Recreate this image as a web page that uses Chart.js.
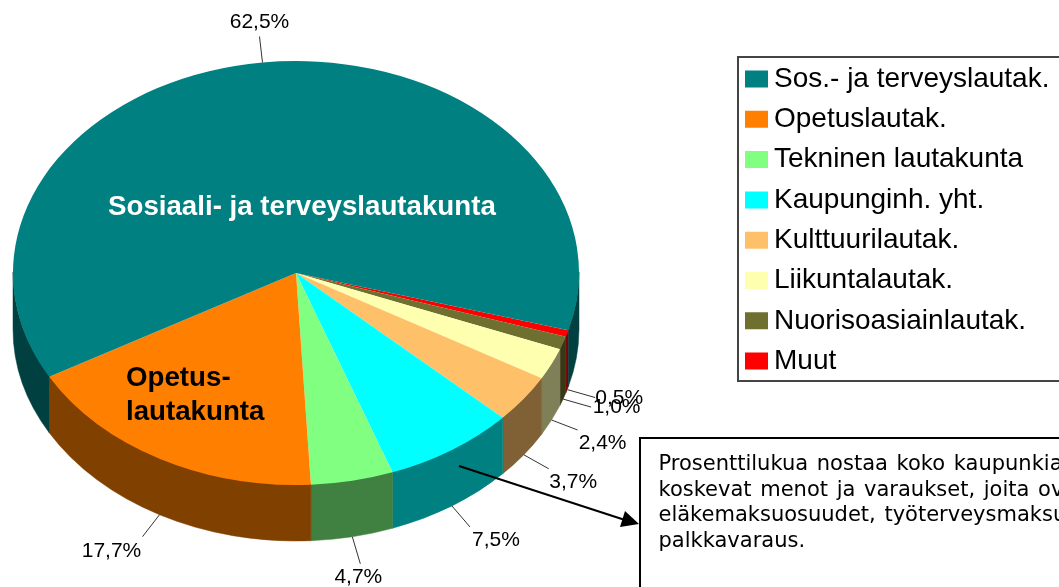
<!DOCTYPE html>
<html>
<head>
<meta charset="utf-8">
<title>Kaupungin menot lautakunnittain</title>
<script src="https://cdn.jsdelivr.net/npm/chart.js@4/dist/chart.umd.min.js"></script>
<style>
    html, body { margin: 0; padding: 0; background: #fff; overflow: hidden; }
    canvas { display: block; }
</style>
</head>
<body>
<canvas id="pie" width="1059" height="587"></canvas>
<script>
// legend order
const categories = ['Sos.- ja terveyslautak.', 'Opetuslautak.', 'Tekninen lautakunta', 'Kaupunginh. yht.', 'Kulttuurilautak.', 'Liikuntalautak.', 'Nuorisoasiainlautak.', 'Muut'];
const shares = [62.5, 17.7, 4.7, 7.5, 3.7, 2.4, 1.0, 0.5];
const topColours = ['#008080', '#ff8000', '#80ff80', '#00ffff', '#ffc06a', '#ffffb0', '#6f6f30', '#ff0000'];
const sideColours = ['#004040', '#804000', '#408040', '#008080', '#806035', '#808058', '#383818', '#800000'];
const noteLines = ['Prosenttilukua nostaa koko kaupunkia', 'koskevat menot ja varaukset, joita ovat', 'eläkemaksuosuudet, työterveysmaksut ja', 'palkkavaraus.'];

// percent label offsets from the slice rim: leader end x, y, text centre x, y
const labelOffsets = [[-3, -26, -3, -40], [-17, 22, -48, 36], [8, 27, 6, 40], [18, 21, 44, 34], [25, 14, 49.5, 27.5], [26, 10, 51, 23], [28, 8, 53.5, 8], [28, 8, 52, 8.4]];

// the slices run counter-clockwise in the original, so feed them reversed
const reversed = arr => [...arr].reverse();

// tilted pie look
const centerX = 296;
const centerY = 273;
const radiusX = 283;
const radiusY = 212;
const tilt = radiusY / radiusX;
const depth = 56;
const sansFont = '"Liberation Sans", Arial, sans-serif';

const tiltedPie = {
    id: 'tiltedPie',
    beforeDatasetDraw(chart, args) {
        const ctx = chart.ctx;
        const arcs = args.meta.data;
        const sides = reversed(sideColours);

        // side wall, only the part of each slice that faces the viewer
        arcs.forEach((arc, i) => {
            [0, 2 * Math.PI].forEach(turn => {
                const from = Math.max(arc.startAngle, turn);
                const to = Math.min(arc.endAngle, turn + Math.PI);
                if (from >= to) return;
                ctx.fillStyle = sides[i];
                ctx.strokeStyle = sides[i];
                ctx.lineWidth = 0.5;
                ctx.beginPath();
                ctx.ellipse(centerX, centerY - 1, radiusX, radiusY, 0, from, to);
                ctx.ellipse(centerX, centerY + depth, radiusX, radiusY, 0, to, from, true);
                ctx.closePath();
                ctx.fill();
                ctx.stroke();
            });
        });

        // top face goes through the normal arc drawing, just squashed
        ctx.save();
        ctx.translate(centerX, centerY);
        ctx.scale(1, tilt);
        ctx.translate(-arcs[0].x, -arcs[0].y);
    },
    afterDatasetDraw(chart) {
        chart.ctx.restore();
    },
    beforeDraw(chart) {
        // frame round the legend, runs off the right edge
        const ctx = chart.ctx;
        ctx.save();
        ctx.strokeStyle = '#444';
        ctx.lineWidth = 2;
        ctx.strokeRect(738, 57, 340, 324);
        ctx.restore();
    },
    afterLayout(chart) {
        const legend = chart.legend;
        legend.left = 740.7;
        legend.right = 1059;
        legend.top = 52.7;
        legend.bottom = 430;
    },
    afterDraw(chart) {
        const ctx = chart.ctx;
        const arcs = chart.getDatasetMeta(0).data;
        const offsets = reversed(labelOffsets);
        const texts = reversed(shares);
        ctx.save();

        // percent labels with leaders
        ctx.font = '21px ' + sansFont;
        ctx.textAlign = 'center';
        ctx.textBaseline = 'middle';
        arcs.forEach((arc, i) => {
            const mid = (arc.startAngle + arc.endAngle) / 2;
            const rimX = centerX + radiusX * Math.cos(mid);
            const sinMid = Math.sin(mid);
            const rimY = centerY + radiusY * sinMid + (sinMid > 0 ? depth : 0);
            const [lineX, lineY, textX, textY] = offsets[i];
            ctx.strokeStyle = '#333';
            ctx.lineWidth = 1;
            ctx.beginPath();
            ctx.moveTo(rimX, rimY);
            ctx.lineTo(rimX + lineX, rimY + lineY);
            ctx.stroke();
            ctx.fillStyle = '#000';
            ctx.fillText(texts[i].toFixed(1).replace('.', ',') + '%', rimX + textX, rimY + textY);
        });

        // names written on the slices
        ctx.font = 'bold 27.7px ' + sansFont;
        ctx.textAlign = 'left';
        ctx.fillStyle = '#fff';
        ctx.fillText('Sosiaali- ja terveyslautakunta', 108, 207);
        ctx.fillStyle = '#000';
        ctx.fillText('Opetus-', 126, 378);
        ctx.fillText('lautakunta', 126, 412);

        // note box
        ctx.fillStyle = '#fff';
        ctx.strokeStyle = '#000';
        ctx.lineWidth = 2;
        ctx.fillRect(640, 438, 440, 170);
        ctx.strokeRect(640, 438, 440, 170);
        ctx.fillStyle = '#000';
        ctx.font = '21px "DejaVu Sans", sans-serif';
        ctx.wordSpacing = '2px';
        ctx.textBaseline = 'alphabetic';
        noteLines.forEach((line, i) => {
            ctx.fillText(line, 658.5, 470 + i * 25.7);
        });
        ctx.wordSpacing = '0px';

        // arrow from the slice to the note
        ctx.strokeStyle = '#000';
        ctx.lineWidth = 2;
        ctx.beginPath();
        ctx.moveTo(459, 466);
        ctx.lineTo(625, 520);
        ctx.stroke();
        ctx.beginPath();
        ctx.moveTo(639, 524);
        ctx.lineTo(620, 527);
        ctx.lineTo(625, 511);
        ctx.closePath();
        ctx.fill();
        ctx.restore();
    }
};

new Chart(document.getElementById('pie'), {
    type: 'pie',
    data: {
        labels: reversed(categories),
        datasets: [{
            data: reversed(shares),
            backgroundColor: reversed(topColours),
            borderWidth: 0,
            clip: false,
        }]
    },
    options: {
        responsive: false,
        animation: false,
        radius: radiusX,
        rotation: 105.7,
        plugins: {
            tooltip: { enabled: false },
            legend: {
                position: 'right',
                align: 'start',
                reverse: true,
                labels: {
                    color: '#000',
                    font: { family: sansFont, size: 28 },
                    padding: 12.3,
                    boxWidth: 7,
                    boxHeight: 1,
                    // thick stroke makes the swatch wide without pushing the text away
                    generateLabels(chart) {
                        return Chart.overrides.pie.plugins.legend.labels.generateLabels(chart).map(item => ({
                            ...item,
                            strokeStyle: item.fillStyle,
                            lineWidth: 16,
                        }));
                    },
                }
            }
        }
    },
    plugins: [tiltedPie]
});
</script>
</body>
</html>
